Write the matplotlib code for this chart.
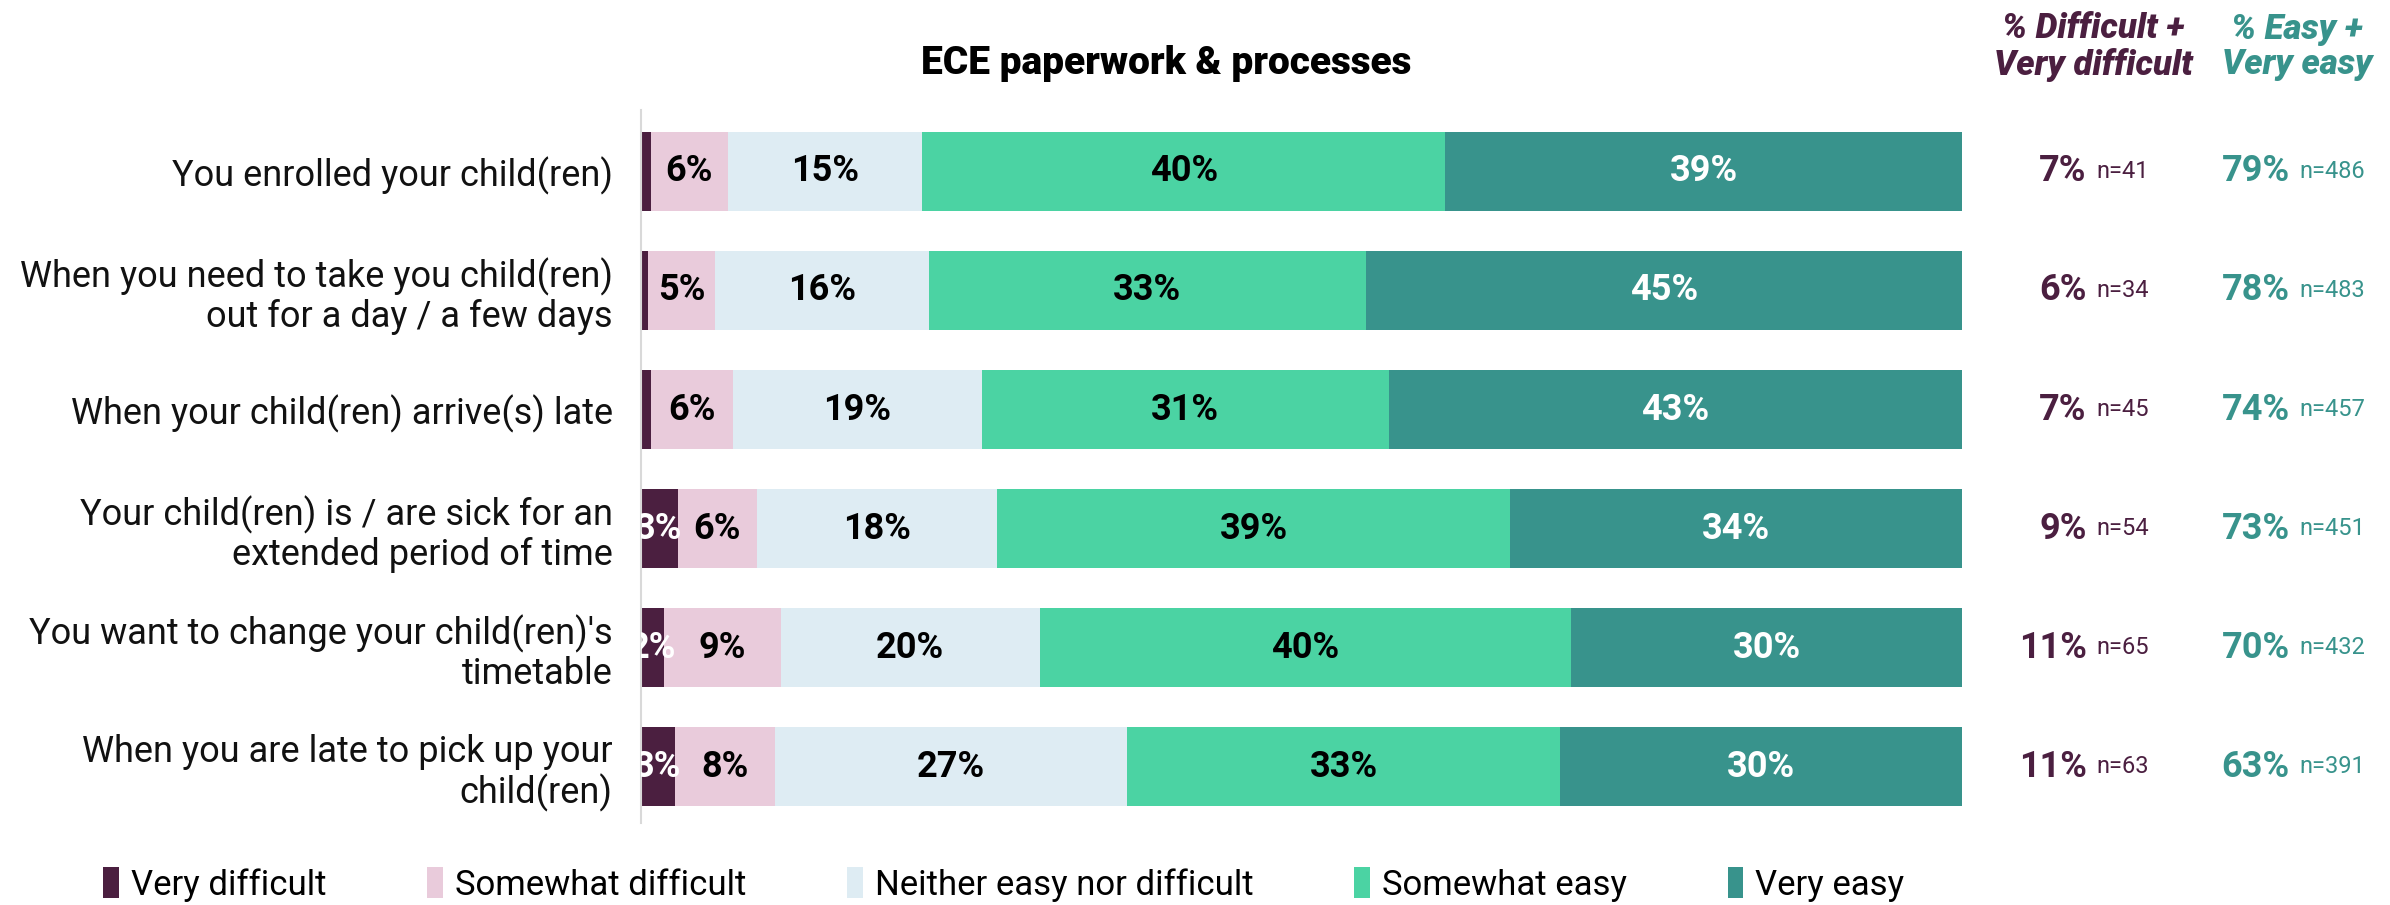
import matplotlib
matplotlib.use("Agg")
import matplotlib.pyplot as plt
import matplotlib.transforms as mtransforms
from matplotlib.patches import Patch
import numpy as np

# data
categories = [
    "You enrolled your child(ren)",
    "When you need to take you child(ren)\nout for a day / a few days",
    "When your child(ren) arrive(s) late",
    "Your child(ren) is / are sick for an\nextended period of time",
    "You want to change your child(ren)'s\ntimetable",
    "When you are late to pick up your\nchild(ren)",
]
series_names = ["Very difficult", "Somewhat difficult", "Neither easy nor difficult",
                "Somewhat easy", "Very easy"]
very_difficult = [0.8, 0.6, 0.8, 2.8, 1.8, 2.6]
somewhat_difficult = [5.8, 5.0, 6.2, 6.0, 8.8, 7.6]
neither = [14.7, 16.2, 18.8, 18.2, 19.6, 26.6]
somewhat_easy = [39.6, 33.1, 30.8, 38.8, 40.2, 32.8]
very_easy = [39.1, 45.1, 43.4, 34.2, 29.6, 30.4]

diff_pct = [7, 6, 7, 9, 11, 11]
diff_n = [41, 34, 45, 54, 65, 63]
easy_pct = [79, 78, 74, 73, 70, 63]
easy_n = [486, 483, 457, 451, 432, 391]

colors = ["#4b1f40", "#e9cbdb", "#deecf3", "#4bd3a3", "#38938c"]
label_colors = ["white", "black", "black", "black", "white"]
DIFF_COL = "#4b1f40"
EASY_COL = "#38938c"

FONT = ["Roboto", "DejaVu Sans"]
plt.rcParams['font.family'] = FONT

fig = plt.figure(figsize=(23.9, 9.05), dpi=100)
ax = fig.add_axes([0.268, 0.091, 0.553, 0.788])

series = [very_difficult, somewhat_difficult, neither, somewhat_easy, very_easy]
y = np.arange(len(categories))
left = np.zeros(len(categories))
for vals, col, lcol in zip(series, colors, label_colors):
    vals = np.array(vals)
    ax.barh(y, vals, left=left, height=0.66, color=col, edgecolor='none')
    for yi, (l, v) in enumerate(zip(left, vals)):
        if v >= 1.5:
            ax.text(l + v / 2, yi, f"{v:.0f}%", ha='center', va='center',
                    fontsize=26, fontweight='bold', color=lcol, clip_on=True)
    left = left + vals

ax.set_xlim(0, 100)
ax.set_ylim(5.47, -0.52)
ax.set_yticks(y)
ax.set_yticklabels(categories, fontsize=26, color='#111111', linespacing=1.12)
ax.tick_params(axis='y', length=0, pad=20)
ax.set_xticks([])
for s in ['top', 'right', 'bottom']:
    ax.spines[s].set_visible(False)
ax.spines['left'].set_color('#d9d9d9')
ax.spines['left'].set_linewidth(1.5)

fig.text(0.488, 0.93, "ECE paperwork & processes", ha='center', va='center',
         fontsize=28, fontweight='heavy', family=FONT)

# right side summary columns
tr = mtransforms.blended_transform_factory(fig.transFigure, ax.transData)
fig.text(0.876, 0.948, "% Difficult +\nVery difficult", ha='center', va='center',
         fontsize=25, fontweight='heavy', fontstyle='italic', color=DIFF_COL,
         linespacing=1.1)
fig.text(0.961, 0.948, "% Easy +\nVery easy", ha='center', va='center',
         fontsize=25, fontweight='heavy', fontstyle='italic', color=EASY_COL,
         linespacing=1.1)
for yi in y:
    ax.text(0.873, yi, f"{diff_pct[yi]}%", transform=tr, ha='right', va='center',
            fontsize=26, fontweight='bold', color=DIFF_COL)
    ax.text(0.877, yi, f"n={diff_n[yi]}", transform=tr, ha='left', va='center',
            fontsize=17, color=DIFF_COL)
    ax.text(0.958, yi, f"{easy_pct[yi]}%", transform=tr, ha='right', va='center',
            fontsize=26, fontweight='bold', color=EASY_COL)
    ax.text(0.962, yi, f"n={easy_n[yi]}", transform=tr, ha='left', va='center',
            fontsize=17, color=EASY_COL)

handles = [Patch(facecolor=c, edgecolor='none') for c in colors]
fig.legend(handles, series_names, loc='lower center', bbox_to_anchor=(0.42, -0.031),
           ncol=5, frameon=False, fontsize=25, handlelength=0.45, handleheight=1.0,
           handletextpad=0.35, columnspacing=2.9)

fig.savefig("out.png", dpi=100, facecolor='white')
